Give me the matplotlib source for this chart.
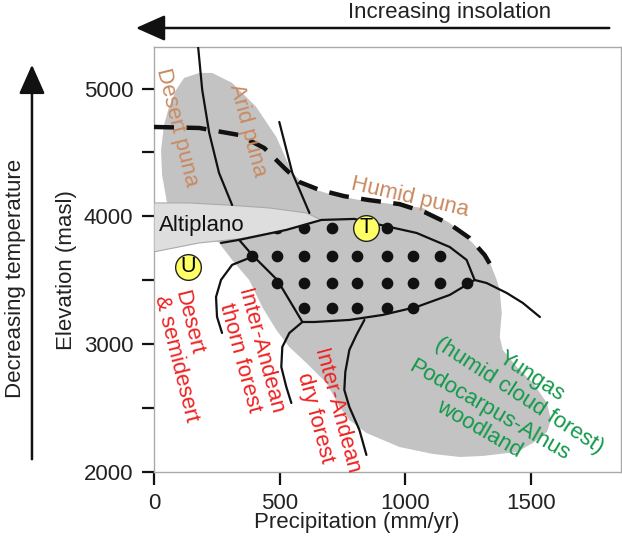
import matplotlib
matplotlib.use('Agg')
import matplotlib.pyplot as plt
from matplotlib.patches import Polygon, FancyArrowPatch

plt.rcParams['font.family'] = ['Liberation Sans', 'DejaVu Sans']

# gray envelope of all vegetation (precipitation mm/yr, elevation m)
veg_x = [52, 32, 28, 40, 60, 88, 120, 180, 232, 311, 407, 487, 551, 607, 711, 818,
         978, 1070, 1178, 1269, 1337, 1365, 1377, 1385, 1377, 1389, 1445, 1509, 1565,
         1581, 1565, 1509, 1445, 1309, 1218, 1110, 978, 846, 778, 739, 687, 607, 539,
         487, 431, 379, 311, 259]
veg_y = [4104, 4323, 4519, 4715, 4856, 4989, 5083, 5122, 5122, 5044, 4856, 4621, 4339,
         4229, 4167, 4127, 4088, 4065, 3947, 3791, 3642, 3501, 3423, 3243, 3055, 2953,
         2820, 2695, 2538, 2405, 2311, 2225, 2154, 2123, 2115, 2139, 2193, 2303, 2405,
         2507, 2695, 2851, 2976, 3110, 3290, 3501, 3658, 3791]

# Altiplano wedge
alti_x = [0, 140, 287, 459, 607, 667, 527, 339, 180, 0]
alti_y = [4104, 4104, 4088, 4065, 4026, 3971, 3893, 3823, 3791, 3721]

# dotted lens outline
lens_x = [267, 339, 527, 667, 798, 886, 1046, 1178, 1245, 1277, 1178, 1046, 910, 778,
          639, 591, 491, 391, 339]
lens_y = [3791, 3815, 3893, 3971, 3979, 3939, 3869, 3759, 3658, 3501, 3384, 3290, 3227,
          3188, 3172, 3172, 3501, 3697, 3815]

# other boundary lines
east_x = [1277, 1325, 1405, 1469, 1537]
east_y = [3501, 3477, 3399, 3321, 3211]
thorn_x = [379, 311, 267, 247, 251, 271]
thorn_y = [3673, 3619, 3502, 3368, 3212, 3086]
dry_x = [591, 539, 511, 507, 527, 547]
dry_y = [3172, 3086, 2976, 2820, 2663, 2538]
yun_x = [838, 806, 778, 762, 758, 778, 818, 846]
yun_y = [3188, 3070, 2953, 2781, 2640, 2507, 2327, 2131]
puna1_x = [176, 192, 220, 259, 311]
puna1_y = [5320, 4989, 4652, 4339, 4088]
puna2_x = [499, 551, 619]
puna2_y = [4738, 4339, 4026]

# dashed upper limit
dash_x = [0, 180, 339, 439, 519, 579, 659, 758, 858, 978, 1078, 1178, 1257, 1317, 1357]
dash_y = [4699, 4691, 4636, 4534, 4378, 4268, 4206, 4157, 4126, 4095, 4032, 3938, 3829,
          3696, 3563]

# dot grid inside the lens
dot_rows = {
    3908: [491, 599, 707, 818, 926],
    3689: [391, 491, 599, 707, 810, 926, 1030, 1138],
    3478: [491, 599, 707, 810, 926, 1030, 1138, 1245],
    3282: [599, 707, 810, 926, 1030],
}

# sites
site_names = ['T', 'U']
site_x = [846, 136]
site_y = [3908, 3603]

tan = '#c98a62'
red = '#ee2222'
green = '#12994a'

fig = plt.figure(figsize=(6.22, 5.47), dpi=100)
ax = fig.add_axes([0.2476, 0.1377, 0.7508, 0.7759])
ax.set_xlim(0, 1860)
ax.set_ylim(2000, 5323)

ax.add_patch(Polygon(list(zip(veg_x, veg_y)), closed=True, fc='#c3c3c3', ec='none', zorder=1))
for yy, xs in dot_rows.items():
    ax.plot(xs, [yy] * len(xs), 'o', color='#111111', ms=7.4, zorder=2)
ax.add_patch(Polygon(list(zip(alti_x, alti_y)), closed=True, fc='#dedede', ec='#aaaaaa',
                     lw=0.8, zorder=3))

for xs, ys in [(lens_x, lens_y), (east_x, east_y), (thorn_x, thorn_y), (dry_x, dry_y),
               (yun_x, yun_y), (puna1_x, puna1_y), (puna2_x, puna2_y)]:
    ax.plot(xs, ys, color='#111111', lw=1.6, zorder=4, solid_capstyle='round')
ax.plot(dash_x, dash_y, color='#111111', lw=3.2, dashes=(4.5, 2.8), zorder=4)

for name, sx, sy in zip(site_names, site_x, site_y):
    ax.plot(sx, sy, 'o', ms=18.5, mfc='#ffff66', mec='#222222', mew=1, zorder=5)
    ax.text(sx, sy, name, ha='center', va='center', fontsize=15.5, zorder=6)

fs = 16
ax.text(92, 4699, 'Desert puna', color=tan, fontsize=fs, rotation=-76, ha='center', va='center', zorder=6)
ax.text(371, 4676, 'Arid puna', color=tan, fontsize=fs, rotation=-75, ha='center', va='center', zorder=6)
ax.text(1018, 4150, 'Humid puna', color=tan, fontsize=fs, rotation=-13, ha='center', va='center', zorder=6)
ax.text(20, 3924, 'Altiplano', color='#111111', fontsize=fs, ha='left', va='center', zorder=6)
ax.text(128, 2906, 'Desert\n& semidesert', color=red, fontsize=fs, rotation=-76, ha='center',
        va='center', multialignment='left', linespacing=1.0, zorder=6)
ax.text(383, 2914, 'Inter-Andean\nthorn forest', color=red, fontsize=fs, rotation=-75, ha='center',
        va='center', multialignment='center', linespacing=1.0, zorder=6)
ax.text(683, 2444, 'Inter-Andean\ndry forest', color=red, fontsize=fs, rotation=-75, ha='center',
        va='center', multialignment='center', linespacing=1.0, zorder=6, clip_on=False)
ax.text(1480, 2670, 'Yungas\n(humid cloud forest)', color=green, fontsize=fs, rotation=-33,
        ha='center', va='center', multialignment='center', linespacing=1.1, zorder=6,
        clip_on=False)
ax.text(1315, 2405, 'Podocarpus-Alnus\nwoodland', color=green, fontsize=fs, rotation=-30,
        ha='center', va='center', multialignment='center', linespacing=1.0, zorder=6)

for s in ax.spines.values():
    s.set_color('#aaaaaa')
    s.set_linewidth(1)
ax.set_xticks([0, 500, 1000, 1500])
ax.set_yticks([2000, 3000, 4000, 5000])
ax.set_yticks([2500, 3500, 4500], minor=True)
ax.tick_params(which='both', direction='out', length=9, width=1.6, color='#111111',
               labelsize=fs, labelcolor='#222222', pad=6)

fig.text(0.574, 0.0457, 'Precipitation (mm/yr)', ha='center', va='center', fontsize=fs, color='#222222')
fig.text(0.1077, 0.5064, 'Elevation (masl)', ha='center', va='center', rotation=90, fontsize=fs, color='#222222')
fig.text(0.7235, 0.978, 'Increasing insolation', ha='center', va='center', fontsize=fs, color='#222222')
fig.text(0.0257, 0.4918, 'Decreasing temperature', ha='center', va='center', rotation=90, fontsize=fs, color='#222222')

fig.add_artist(FancyArrowPatch((0.984, 0.9488), (0.214, 0.9488), transform=fig.transFigure,
                               arrowstyle='-|>,head_length=9,head_width=4', color='#111111', lw=1.8,
                               mutation_scale=2))
fig.add_artist(FancyArrowPatch((0.0514, 0.1554), (0.0514, 0.8867), transform=fig.transFigure,
                               arrowstyle='-|>,head_length=9,head_width=4', color='#111111', lw=1.8,
                               mutation_scale=2))

fig.savefig('out.png', dpi=100)
